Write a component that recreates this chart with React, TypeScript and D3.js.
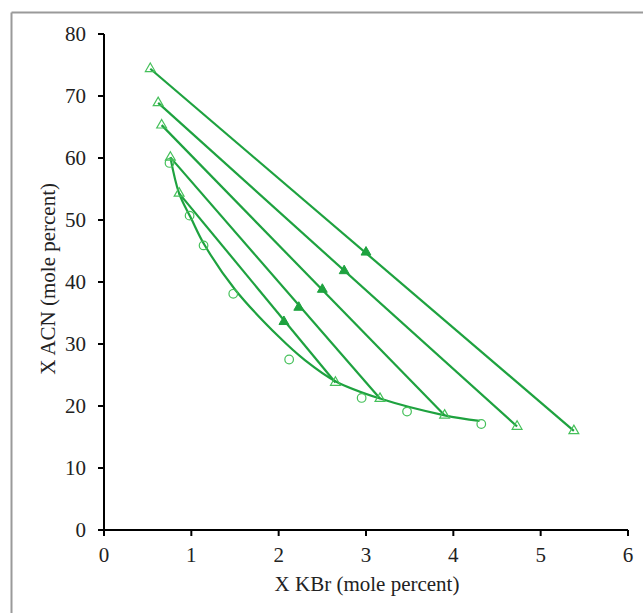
import React from "react";
import * as d3 from "d3";

// Tie lines: [x, y] of left end, middle (feed), right end
const tieLeftX = [0.53, 0.62, 0.66, 0.76, 0.86];
const tieLeftY = [74.4, 68.9, 65.3, 60.1, 54.3];
const tieMidX = [3.0, 2.75, 2.5, 2.23, 2.06];
const tieMidY = [44.8, 41.8, 38.8, 35.9, 33.6];
const tieRightX = [5.38, 4.73, 3.9, 3.16, 2.65];
const tieRightY = [16.0, 16.7, 18.5, 21.2, 23.8];

// Experimental binodal points (open circles)
const binX = [0.75, 0.98, 1.14, 1.48, 2.12, 2.95, 3.47, 4.32];
const binY = [59.2, 50.7, 45.9, 38.1, 27.5, 21.3, 19.1, 17.1];

// Fitted binodal curve
const curveX = [0.76, 0.86, 1.0, 1.15, 1.5, 2.0, 2.3, 2.65, 3.16, 3.9, 4.3];
const curveY = [60.1, 54.3, 50.2, 46.0, 38.8, 31.2, 27.4, 24.0, 21.2, 18.5, 17.6];

const xTicks = [0, 1, 2, 3, 4, 5, 6];
const yTicks = [0, 10, 20, 30, 40, 50, 60, 70, 80];

const LINE = "#1ea23f";
const MARK = "#45c05a";
const FONT = "'Liberation Serif', 'Times New Roman', serif";
const textStyle = { fontFamily: FONT, fontSize: "21px" };

export default function App() {
  const x = d3.scaleLinear().domain([0, 6]).range([104, 628]);
  const y = d3.scaleLinear().domain([0, 80]).range([530, 34]);
  const line = d3.line<[number, number]>().x((d) => x(d[0])).y((d) => y(d[1]));
  const curveLine = d3
    .line<[number, number]>()
    .x((d) => x(d[0]))
    .y((d) => y(d[1]))
    .curve(d3.curveCatmullRom.alpha(0.5));
  const curvePts: [number, number][] = curveX.map((v, i) => [v, curveY[i]]);
  const tri = d3.symbol().type(d3.symbolTriangle).size(42)() as string;

  return (
    <svg width={643} height={613} style={{ position: "absolute", left: 0, top: 0, background: "#fff" }}>
      <rect x={0} y={0} width={643} height={613} fill="#fff" />
      {/* outer border (top and left visible) */}
      <line x1={11.5} y1={12.5} x2={643} y2={12.5} stroke="#9a9a9a" strokeWidth={2} />
      <line x1={11.5} y1={12.5} x2={11.5} y2={613} stroke="#9a9a9a" strokeWidth={2} />

      {/* axes */}
      <line x1={x(0)} y1={y(0)} x2={x(6)} y2={y(0)} stroke="#000" strokeWidth={2} />
      <line x1={x(0)} y1={y(0)} x2={x(0)} y2={y(80)} stroke="#000" strokeWidth={2} />
      {yTicks.map((t) => (
        <g key={"y" + t}>
          <line x1={x(0) - 6} x2={x(0)} y1={y(t)} y2={y(t)} stroke="#000" strokeWidth={2} />
          <text x={x(0) - 18} y={y(t) + 7} textAnchor="end" style={textStyle} fill="#222">
            {t}
          </text>
        </g>
      ))}
      {xTicks.map((t) => (
        <g key={"x" + t}>
          <line x1={x(t)} x2={x(t)} y1={y(0)} y2={y(0) + 6} stroke="#000" strokeWidth={2} />
          <text x={x(t)} y={y(0) + 32} textAnchor="middle" style={textStyle} fill="#222">
            {t}
          </text>
        </g>
      ))}
      <text x={367} y={591} textAnchor="middle" style={textStyle} fill="#222">
        X KBr (mole percent)
      </text>
      <text
        transform={`translate(55, ${y(40.5)}) rotate(-90)`}
        textAnchor="middle"
        style={textStyle}
        fill="#222"
      >
        X ACN (mole percent)
      </text>

      {/* binodal curve */}
      <path d={curveLine(curvePts) || ""} fill="none" stroke={LINE} strokeWidth={2.2} />

      {/* tie lines */}
      {tieLeftX.map((lx, i) => (
        <path
          key={"tl" + i}
          d={line([
            [lx, tieLeftY[i]],
            [tieRightX[i], tieRightY[i]],
          ]) || ""}
          fill="none"
          stroke={LINE}
          strokeWidth={2.2}
        />
      ))}

      {/* experimental circles */}
      {binX.map((bx, i) => (
        <circle key={"c" + i} cx={x(bx)} cy={y(binY[i])} r={4.3} fill="none" stroke={MARK} strokeWidth={1.2} />
      ))}

      {/* open triangles at tie-line ends */}
      {tieLeftX.map((lx, i) => (
        <g key={"ot" + i}>
          <path d={tri} transform={`translate(${x(lx)},${y(tieLeftY[i])})`} fill="none" stroke={MARK} strokeWidth={1.2} />
          <path
            d={tri}
            transform={`translate(${x(tieRightX[i])},${y(tieRightY[i])})`}
            fill="none"
            stroke={MARK}
            strokeWidth={1.2}
          />
        </g>
      ))}

      {/* filled triangles (feed points) */}
      {tieMidX.map((mx, i) => (
        <path key={"ft" + i} d={tri} transform={`translate(${x(mx)},${y(tieMidY[i])})`} fill={LINE} stroke={LINE} />
      ))}
    </svg>
  );
}
